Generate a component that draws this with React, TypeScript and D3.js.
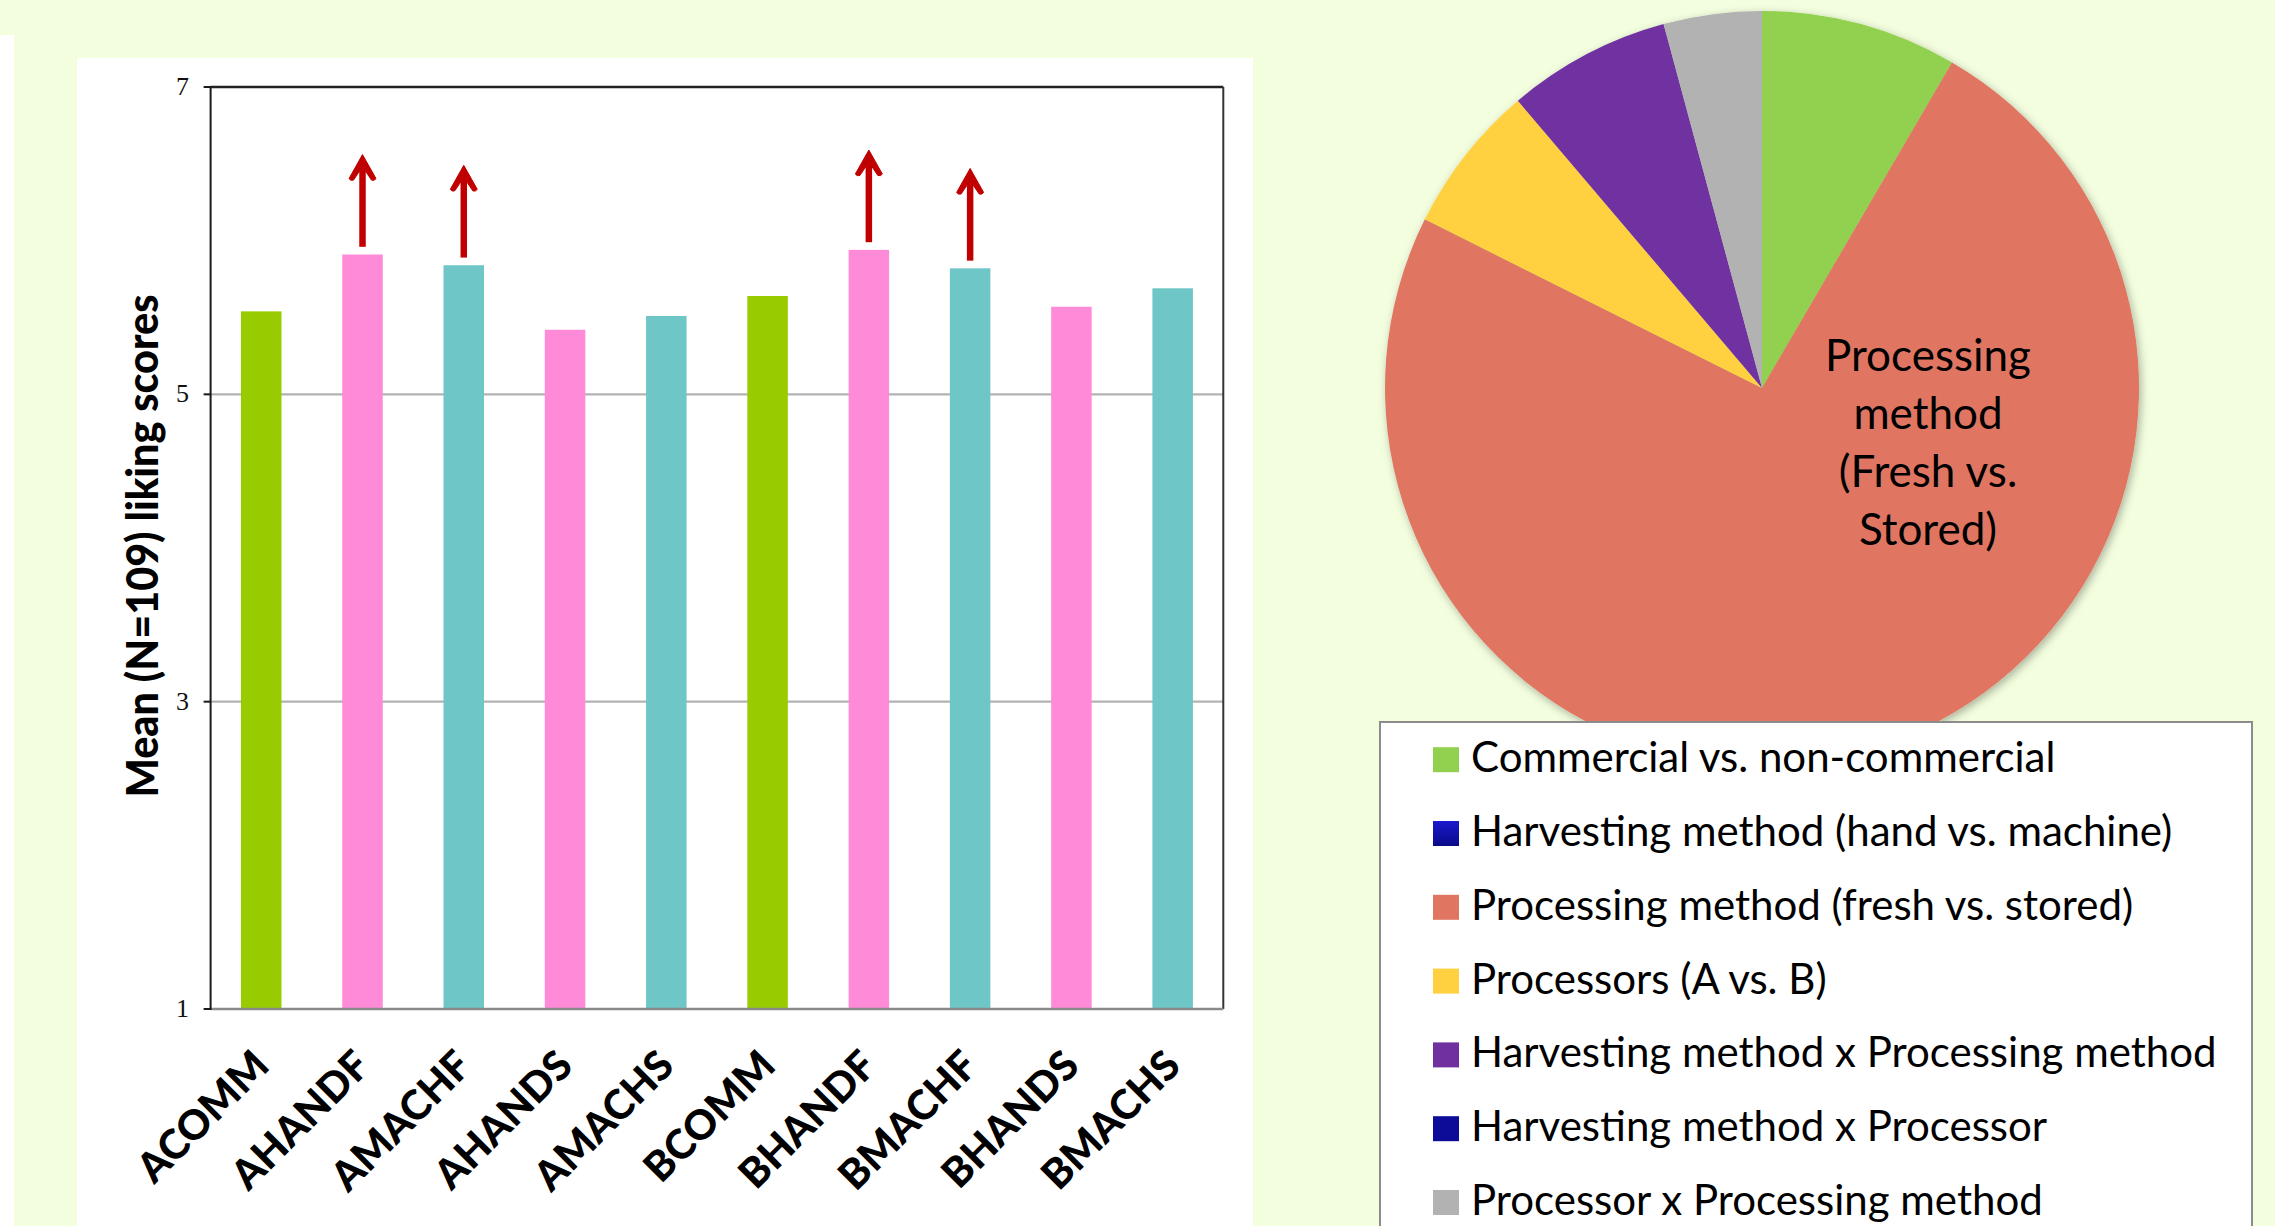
import React from 'react';
import * as d3 from 'd3';

// ---- Bar chart data ----
const categories = ['ACOMM', 'AHANDF', 'AMACHF', 'AHANDS', 'AMACHS', 'BCOMM', 'BHANDF', 'BMACHF', 'BHANDS', 'BMACHS'];
const meanScores = [5.54, 5.91, 5.84, 5.42, 5.51, 5.64, 5.94, 5.82, 5.57, 5.69];
const barGroups = ['commercial', 'hand', 'machine', 'hand', 'machine', 'commercial', 'hand', 'machine', 'hand', 'machine'];
const arrowCategories = ['AHANDF', 'AMACHF', 'BHANDF', 'BMACHF'];
const yTicks = [1, 3, 5, 7];
const yTitle = 'Mean (N=109) liking scores';

// ---- Pie chart data ----
const pieLabels = [
  'Commercial vs. non-commercial',
  'Harvesting method (hand vs. machine)',
  'Processing method (fresh vs. stored)',
  'Processors (A vs. B)',
  'Harvesting method x Processing method',
  'Harvesting method x Processor',
  'Processor x Processing method',
];
const pieShares = [8.4, 0, 73.9, 6.4, 7.0, 0, 4.2];
const pieColors = ['#92D050', '#1515C4', '#E07662', '#FFD141', '#7030A0', '#0C0C98', '#B2B2B2'];
const pieInnerLabel = ['Processing', 'method', '(Fresh vs.', 'Stored)'];

const groupColor: Record<string, string> = {
  commercial: '#99CC00',
  hand: '#FF8AD8',
  machine: '#6EC6C6',
};

const W = 2275;
const H = 1226;

export default function App() {
  // bar chart geometry
  const plotL = 210.6, plotR = 1223.3, plotT = 87, plotB = 1009;
  const x = d3.scaleBand<string>().domain(categories).range([plotL, plotR]).paddingInner(0.6).paddingOuter(0.3);
  const y = d3.scaleLinear().domain([1, 7]).range([plotB, plotT]);

  // pie geometry
  const cx = 1762, cy = 388, R = 377;
  const pie = d3.pie<number>().sort(null).value((d) => d);
  const arcs = pie(pieShares);
  const arc = d3.arc<d3.PieArcDatum<number>>().innerRadius(0).outerRadius(R);

  const arrowHead = 'M0,0 L13.5,24 Q12,26.5 9,25.5 L3.3,17 L-3.3,17 L-9,25.5 Q-12,26.5 -13.5,24 Z';

  return (
    <svg width={W} height={H} style={{ position: 'absolute', left: 0, top: 0, display: 'block' }}>
      <defs>
        <filter id="pieShadow" x="-20%" y="-20%" width="140%" height="140%">
          <feDropShadow dx="2" dy="3" stdDeviation="4" floodColor="#000" floodOpacity="0.3" />
        </filter>
        <linearGradient id="blueGrad" x1="0" y1="0" x2="0" y2="1">
          <stop offset="0" stopColor="#1A1ACF" />
          <stop offset="1" stopColor="#0A0A88" />
        </linearGradient>
      </defs>
      <rect x={0} y={0} width={W} height={H} fill="#F2FEDE" />
      <rect x={0} y={35} width={14} height={H - 35} fill="#FFFFFF" />
      <rect x={77} y={58} width={1176} height={H - 58} fill="#FFFFFF" />

      {/* gridlines */}
      {yTicks.filter((t) => t !== 1 && t !== 7).map((t) => (
        <line key={'g' + t} x1={plotL} x2={plotR} y1={y(t)} y2={y(t)} stroke="#B3B3B3" strokeWidth={2.2} />
      ))}

      {/* bars */}
      {categories.map((c, i) => (
        <rect
          key={c}
          x={x(c)}
          y={y(meanScores[i])}
          width={x.bandwidth()}
          height={y(1) - y(meanScores[i])}
          fill={groupColor[barGroups[i]]}
        />
      ))}

      {/* frame */}
      <line x1={plotL} x2={plotR} y1={plotT} y2={plotT} stroke="#222" strokeWidth={2.4} />
      <line x1={plotR} x2={plotR} y1={plotT} y2={plotB} stroke="#333" strokeWidth={2} />
      <line x1={plotL} x2={plotR} y1={plotB} y2={plotB} stroke="#8A8A8A" strokeWidth={2.6} />
      <line x1={plotL} x2={plotL} y1={plotT - 1} y2={plotB + 1} stroke="#1A1A1A" strokeWidth={2} />

      {/* y ticks */}
      {yTicks.map((t) => (
        <g key={'t' + t}>
          <line x1={plotL - 7} x2={plotL} y1={y(t)} y2={y(t)} stroke="#1A1A1A" strokeWidth={2} />
          <text
            x={189}
            y={y(t) + 8}
            textAnchor="end"
            fontFamily="'Liberation Serif', 'DejaVu Serif', serif"
            fontSize={26}
            fill="#111"
          >
            {t}
          </text>
        </g>
      ))}

      {/* arrows */}
      {arrowCategories.map((c) => {
        const i = categories.indexOf(c);
        const v = meanScores[i];
        const cxA = (x(c) as number) + x.bandwidth() / 2;
        const yBottom = y(v + 0.05);
        const yTip = y(v + 0.65);
        return (
          <g key={'a' + c}>
            <line x1={cxA} x2={cxA} y1={yBottom} y2={yTip + 15} stroke="#C00000" strokeWidth={6.5} />
            <path d={arrowHead} transform={`translate(${cxA},${yTip})`} fill="#C00000" stroke="#C00000" strokeWidth={1} strokeLinejoin="round" />
          </g>
        );
      })}

      {/* x labels */}
      {categories.map((c) => {
        const px = (x(c) as number) + x.bandwidth() / 2 + 10;
        const py = 1068;
        return (
          <text
            key={'xl' + c}
            transform={`translate(${px},${py}) rotate(-45)`}
            textAnchor="end"
            fontFamily="Lato, 'Open Sans', sans-serif"
            fontWeight={900}
            fontSize={41}
            fill="#000"
          >
            {c}
          </text>
        );
      })}

      {/* y title */}
      <text
        transform={`translate(158,546) rotate(-90)`}
        textAnchor="middle"
        fontFamily="Lato, 'Open Sans', sans-serif"
        fontWeight={900}
        fontSize={43}
        textLength={503}
        lengthAdjust="spacingAndGlyphs"
        fill="#000"
      >
        {yTitle}
      </text>

      {/* pie */}
      <g transform={`translate(${cx},${cy})`} filter="url(#pieShadow)">
        {arcs.map((a, i) => (
          <path key={'p' + i} d={arc(a) || ''} fill={pieColors[i]} />
        ))}
      </g>
      {pieInnerLabel.map((l, i) => (
        <text
          key={'pl' + i}
          x={1928}
          y={370.5 + i * 58}
          textAnchor="middle"
          fontFamily="Lato, 'Open Sans', sans-serif"
          fontSize={44}
          fill="#000"
        >
          {l}
        </text>
      ))}

      {/* legend */}
      <rect x={1380} y={722} width={872} height={H - 722 + 10} fill="#FFFFFF" stroke="#8C8C8C" strokeWidth={2} />
      {pieLabels.map((l, i) => {
        const rc = 759.7 + i * 73.8;
        const col = i === 1 ? 'url(#blueGrad)' : pieColors[i];
        return (
          <g key={'lg' + i}>
            <rect x={1433} y={rc - 12.5} width={26} height={25} fill={col} />
            <text x={1471} y={rc + 12.5} fontFamily="Lato, 'Open Sans', sans-serif" fontSize={42} fill="#000">
              {l}
            </text>
          </g>
        );
      })}
    </svg>
  );
}
